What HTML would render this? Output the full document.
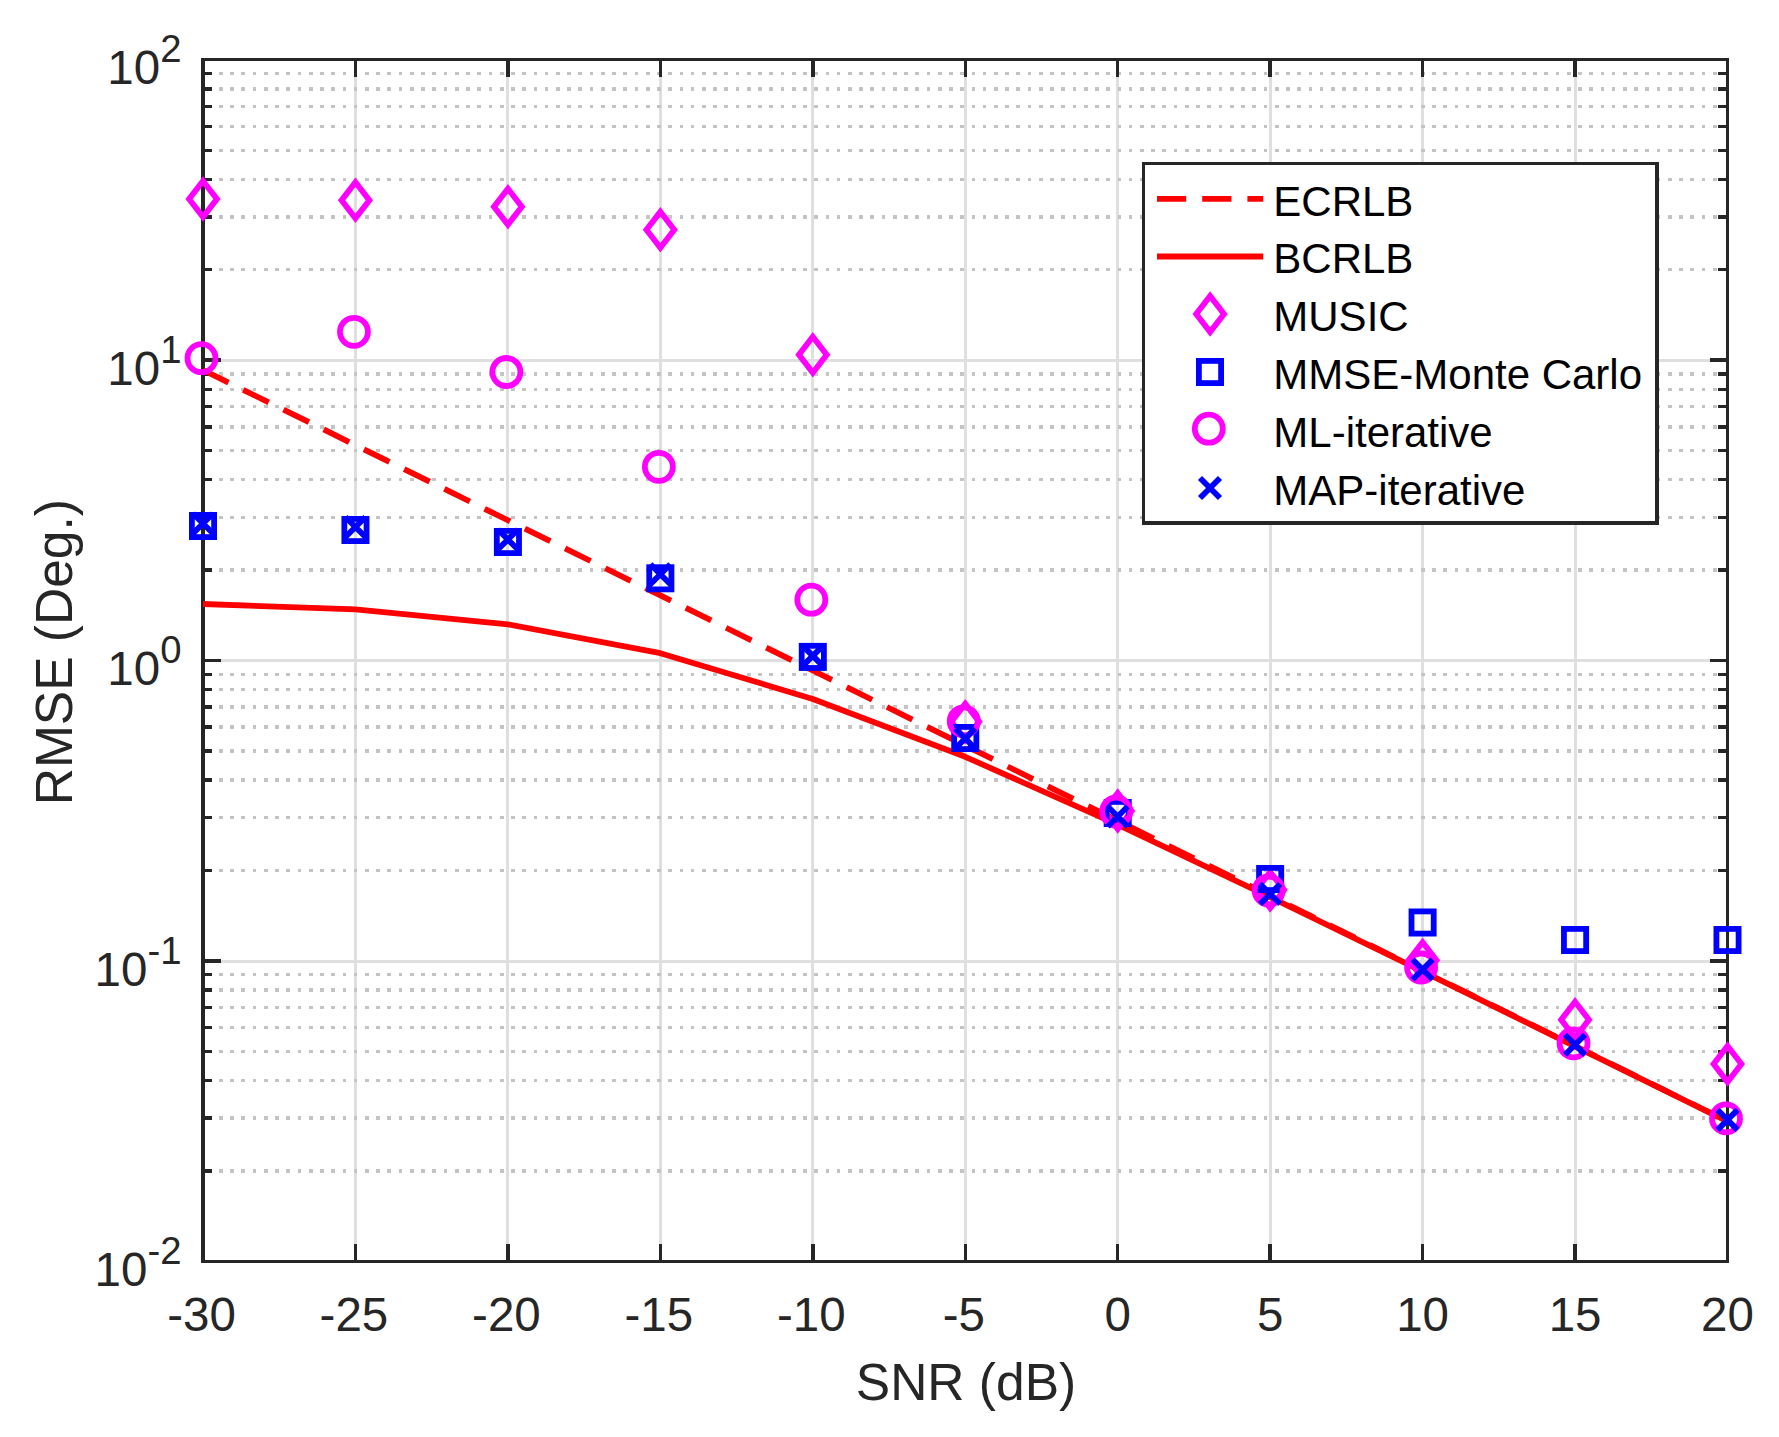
<!DOCTYPE html>
<html lang="en"><head><meta charset="utf-8"><title>RMSE vs SNR</title>
<style>html,body{margin:0;padding:0;background:#fff;}body{width:1779px;height:1437px;overflow:hidden;}svg{display:block;}text{font-family:"Liberation Sans",Arial,Helvetica,sans-serif;}</style></head><body>
<svg width="1779" height="1437" viewBox="0 0 1779 1437">
<rect x="0" y="0" width="1779" height="1437" fill="#ffffff"/>
<g shape-rendering="crispEdges" fill="none">
<g stroke="#dfdfdf" stroke-width="3.00">
<line x1="355.45" y1="59.50" x2="355.45" y2="1261.50"/>
<line x1="507.90" y1="59.50" x2="507.90" y2="1261.50"/>
<line x1="660.35" y1="59.50" x2="660.35" y2="1261.50"/>
<line x1="812.80" y1="59.50" x2="812.80" y2="1261.50"/>
<line x1="965.25" y1="59.50" x2="965.25" y2="1261.50"/>
<line x1="1117.70" y1="59.50" x2="1117.70" y2="1261.50"/>
<line x1="1270.15" y1="59.50" x2="1270.15" y2="1261.50"/>
<line x1="1422.60" y1="59.50" x2="1422.60" y2="1261.50"/>
<line x1="1575.05" y1="59.50" x2="1575.05" y2="1261.50"/>
<line x1="203.00" y1="360.00" x2="1727.50" y2="360.00"/>
<line x1="203.00" y1="660.50" x2="1727.50" y2="660.50"/>
<line x1="203.00" y1="961.00" x2="1727.50" y2="961.00"/>
</g>
<g stroke="#c4c4c4" stroke-width="3.4" stroke-dasharray="3.7 7.532" stroke-dashoffset="6.46">
<line x1="203.00" y1="1170.88" x2="1727.50" y2="1170.88"/>
<line x1="203.00" y1="1117.98" x2="1727.50" y2="1117.98"/>
<line x1="203.00" y1="1080.46" x2="1727.50" y2="1080.46"/>
<line x1="203.00" y1="1051.35" x2="1727.50" y2="1051.35"/>
<line x1="203.00" y1="1027.56" x2="1727.50" y2="1027.56"/>
<line x1="203.00" y1="1007.45" x2="1727.50" y2="1007.45"/>
<line x1="203.00" y1="990.03" x2="1727.50" y2="990.03"/>
<line x1="203.00" y1="974.67" x2="1727.50" y2="974.67"/>
<line x1="203.00" y1="870.50" x2="1727.50" y2="870.50"/>
<line x1="203.00" y1="817.61" x2="1727.50" y2="817.61"/>
<line x1="203.00" y1="780.08" x2="1727.50" y2="780.08"/>
<line x1="203.00" y1="750.97" x2="1727.50" y2="750.97"/>
<line x1="203.00" y1="727.19" x2="1727.50" y2="727.19"/>
<line x1="203.00" y1="707.08" x2="1727.50" y2="707.08"/>
<line x1="203.00" y1="689.66" x2="1727.50" y2="689.66"/>
<line x1="203.00" y1="674.29" x2="1727.50" y2="674.29"/>
<line x1="203.00" y1="570.13" x2="1727.50" y2="570.13"/>
<line x1="203.00" y1="517.23" x2="1727.50" y2="517.23"/>
<line x1="203.00" y1="479.71" x2="1727.50" y2="479.71"/>
<line x1="203.00" y1="450.60" x2="1727.50" y2="450.60"/>
<line x1="203.00" y1="426.81" x2="1727.50" y2="426.81"/>
<line x1="203.00" y1="406.70" x2="1727.50" y2="406.70"/>
<line x1="203.00" y1="389.28" x2="1727.50" y2="389.28"/>
<line x1="203.00" y1="373.92" x2="1727.50" y2="373.92"/>
<line x1="203.00" y1="269.75" x2="1727.50" y2="269.75"/>
<line x1="203.00" y1="216.86" x2="1727.50" y2="216.86"/>
<line x1="203.00" y1="179.33" x2="1727.50" y2="179.33"/>
<line x1="203.00" y1="150.22" x2="1727.50" y2="150.22"/>
<line x1="203.00" y1="126.44" x2="1727.50" y2="126.44"/>
<line x1="203.00" y1="106.33" x2="1727.50" y2="106.33"/>
<line x1="203.00" y1="88.91" x2="1727.50" y2="88.91"/>
<line x1="203.00" y1="73.54" x2="1727.50" y2="73.54"/>
</g>
<g stroke="#262626" stroke-width="3.40">
<line x1="355.45" y1="59.50" x2="355.45" y2="77.00"/>
<line x1="355.45" y1="1261.50" x2="355.45" y2="1244.00"/>
<line x1="507.90" y1="59.50" x2="507.90" y2="77.00"/>
<line x1="507.90" y1="1261.50" x2="507.90" y2="1244.00"/>
<line x1="660.35" y1="59.50" x2="660.35" y2="77.00"/>
<line x1="660.35" y1="1261.50" x2="660.35" y2="1244.00"/>
<line x1="812.80" y1="59.50" x2="812.80" y2="77.00"/>
<line x1="812.80" y1="1261.50" x2="812.80" y2="1244.00"/>
<line x1="965.25" y1="59.50" x2="965.25" y2="77.00"/>
<line x1="965.25" y1="1261.50" x2="965.25" y2="1244.00"/>
<line x1="1117.70" y1="59.50" x2="1117.70" y2="77.00"/>
<line x1="1117.70" y1="1261.50" x2="1117.70" y2="1244.00"/>
<line x1="1270.15" y1="59.50" x2="1270.15" y2="77.00"/>
<line x1="1270.15" y1="1261.50" x2="1270.15" y2="1244.00"/>
<line x1="1422.60" y1="59.50" x2="1422.60" y2="77.00"/>
<line x1="1422.60" y1="1261.50" x2="1422.60" y2="1244.00"/>
<line x1="1575.05" y1="59.50" x2="1575.05" y2="77.00"/>
<line x1="1575.05" y1="1261.50" x2="1575.05" y2="1244.00"/>
<line x1="203.00" y1="360.00" x2="220.50" y2="360.00"/>
<line x1="1727.50" y1="360.00" x2="1710.00" y2="360.00"/>
<line x1="203.00" y1="660.50" x2="220.50" y2="660.50"/>
<line x1="1727.50" y1="660.50" x2="1710.00" y2="660.50"/>
<line x1="203.00" y1="961.00" x2="220.50" y2="961.00"/>
<line x1="1727.50" y1="961.00" x2="1710.00" y2="961.00"/>
<line x1="203.00" y1="1170.88" x2="212.00" y2="1170.88"/>
<line x1="1727.50" y1="1170.88" x2="1717.90" y2="1170.88"/>
<line x1="203.00" y1="1117.98" x2="212.00" y2="1117.98"/>
<line x1="1727.50" y1="1117.98" x2="1717.90" y2="1117.98"/>
<line x1="203.00" y1="1080.46" x2="212.00" y2="1080.46"/>
<line x1="1727.50" y1="1080.46" x2="1717.90" y2="1080.46"/>
<line x1="203.00" y1="1051.35" x2="212.00" y2="1051.35"/>
<line x1="1727.50" y1="1051.35" x2="1717.90" y2="1051.35"/>
<line x1="203.00" y1="1027.56" x2="212.00" y2="1027.56"/>
<line x1="1727.50" y1="1027.56" x2="1717.90" y2="1027.56"/>
<line x1="203.00" y1="1007.45" x2="212.00" y2="1007.45"/>
<line x1="1727.50" y1="1007.45" x2="1717.90" y2="1007.45"/>
<line x1="203.00" y1="990.03" x2="212.00" y2="990.03"/>
<line x1="1727.50" y1="990.03" x2="1717.90" y2="990.03"/>
<line x1="203.00" y1="974.67" x2="212.00" y2="974.67"/>
<line x1="1727.50" y1="974.67" x2="1717.90" y2="974.67"/>
<line x1="203.00" y1="870.50" x2="212.00" y2="870.50"/>
<line x1="1727.50" y1="870.50" x2="1717.90" y2="870.50"/>
<line x1="203.00" y1="817.61" x2="212.00" y2="817.61"/>
<line x1="1727.50" y1="817.61" x2="1717.90" y2="817.61"/>
<line x1="203.00" y1="780.08" x2="212.00" y2="780.08"/>
<line x1="1727.50" y1="780.08" x2="1717.90" y2="780.08"/>
<line x1="203.00" y1="750.97" x2="212.00" y2="750.97"/>
<line x1="1727.50" y1="750.97" x2="1717.90" y2="750.97"/>
<line x1="203.00" y1="727.19" x2="212.00" y2="727.19"/>
<line x1="1727.50" y1="727.19" x2="1717.90" y2="727.19"/>
<line x1="203.00" y1="707.08" x2="212.00" y2="707.08"/>
<line x1="1727.50" y1="707.08" x2="1717.90" y2="707.08"/>
<line x1="203.00" y1="689.66" x2="212.00" y2="689.66"/>
<line x1="1727.50" y1="689.66" x2="1717.90" y2="689.66"/>
<line x1="203.00" y1="674.29" x2="212.00" y2="674.29"/>
<line x1="1727.50" y1="674.29" x2="1717.90" y2="674.29"/>
<line x1="203.00" y1="570.13" x2="212.00" y2="570.13"/>
<line x1="1727.50" y1="570.13" x2="1717.90" y2="570.13"/>
<line x1="203.00" y1="517.23" x2="212.00" y2="517.23"/>
<line x1="1727.50" y1="517.23" x2="1717.90" y2="517.23"/>
<line x1="203.00" y1="479.71" x2="212.00" y2="479.71"/>
<line x1="1727.50" y1="479.71" x2="1717.90" y2="479.71"/>
<line x1="203.00" y1="450.60" x2="212.00" y2="450.60"/>
<line x1="1727.50" y1="450.60" x2="1717.90" y2="450.60"/>
<line x1="203.00" y1="426.81" x2="212.00" y2="426.81"/>
<line x1="1727.50" y1="426.81" x2="1717.90" y2="426.81"/>
<line x1="203.00" y1="406.70" x2="212.00" y2="406.70"/>
<line x1="1727.50" y1="406.70" x2="1717.90" y2="406.70"/>
<line x1="203.00" y1="389.28" x2="212.00" y2="389.28"/>
<line x1="1727.50" y1="389.28" x2="1717.90" y2="389.28"/>
<line x1="203.00" y1="373.92" x2="212.00" y2="373.92"/>
<line x1="1727.50" y1="373.92" x2="1717.90" y2="373.92"/>
<line x1="203.00" y1="269.75" x2="212.00" y2="269.75"/>
<line x1="1727.50" y1="269.75" x2="1717.90" y2="269.75"/>
<line x1="203.00" y1="216.86" x2="212.00" y2="216.86"/>
<line x1="1727.50" y1="216.86" x2="1717.90" y2="216.86"/>
<line x1="203.00" y1="179.33" x2="212.00" y2="179.33"/>
<line x1="1727.50" y1="179.33" x2="1717.90" y2="179.33"/>
<line x1="203.00" y1="150.22" x2="212.00" y2="150.22"/>
<line x1="1727.50" y1="150.22" x2="1717.90" y2="150.22"/>
<line x1="203.00" y1="126.44" x2="212.00" y2="126.44"/>
<line x1="1727.50" y1="126.44" x2="1717.90" y2="126.44"/>
<line x1="203.00" y1="106.33" x2="212.00" y2="106.33"/>
<line x1="1727.50" y1="106.33" x2="1717.90" y2="106.33"/>
<line x1="203.00" y1="88.91" x2="212.00" y2="88.91"/>
<line x1="1727.50" y1="88.91" x2="1717.90" y2="88.91"/>
<line x1="203.00" y1="73.54" x2="212.00" y2="73.54"/>
<line x1="1727.50" y1="73.54" x2="1717.90" y2="73.54"/>
<rect x="203.00" y="59.50" width="1524.50" height="1202.00" stroke-width="3.40"/>
</g>
</g>
<g fill="none" stroke-linejoin="round">
<polyline points="203.00,370.00 355.45,445.12 507.90,520.25 660.35,595.38 812.80,670.50 965.25,745.62 1117.70,820.75 1270.15,895.88 1422.60,971.00 1575.05,1046.12 1727.50,1121.25" stroke="#ff0000" stroke-width="5.8" stroke-dasharray="28.4 16.45"/>
<polyline points="203.00,604.00 355.45,609.40 507.90,624.30 660.35,653.20 812.80,699.00 965.25,756.80 1117.70,824.60 1270.15,897.10 1422.60,971.40 1575.05,1046.30 1727.50,1121.30" stroke="#ff0000" stroke-width="5.8"/>
<g stroke="#ff00ff" stroke-width="5.8" stroke-linejoin="miter">
<path d="M203.00 181.00L216.90 199.00L203.00 217.00L189.10 199.00Z"/>
<path d="M355.45 182.20L369.35 200.20L355.45 218.20L341.55 200.20Z"/>
<path d="M507.90 188.70L521.80 206.70L507.90 224.70L494.00 206.70Z"/>
<path d="M660.35 211.70L674.25 229.70L660.35 247.70L646.45 229.70Z"/>
<path d="M812.80 336.80L826.70 354.80L812.80 372.80L798.90 354.80Z"/>
<path d="M965.25 703.80L979.15 721.80L965.25 739.80L951.35 721.80Z"/>
<path d="M1117.70 793.00L1131.60 811.00L1117.70 829.00L1103.80 811.00Z"/>
<path d="M1270.15 872.00L1284.05 890.00L1270.15 908.00L1256.25 890.00Z"/>
<path d="M1422.60 942.20L1436.50 960.20L1422.60 978.20L1408.70 960.20Z"/>
<path d="M1575.05 1001.80L1588.95 1019.80L1575.05 1037.80L1561.15 1019.80Z"/>
<path d="M1727.50 1046.00L1741.40 1064.00L1727.50 1082.00L1713.60 1064.00Z"/>
</g>
<g stroke="#0000ff" stroke-width="5.8" stroke-linejoin="miter">
<rect x="191.90" y="514.90" width="22.20" height="22.20"/>
<rect x="344.35" y="518.90" width="22.20" height="22.20"/>
<rect x="496.80" y="530.90" width="22.20" height="22.20"/>
<rect x="649.25" y="567.20" width="22.20" height="22.20"/>
<rect x="801.70" y="645.80" width="22.20" height="22.20"/>
<rect x="954.15" y="726.90" width="22.20" height="22.20"/>
<rect x="1106.60" y="801.90" width="22.20" height="22.20"/>
<rect x="1259.05" y="867.90" width="22.20" height="22.20"/>
<rect x="1411.50" y="911.40" width="22.20" height="22.20"/>
<rect x="1563.95" y="928.90" width="22.20" height="22.20"/>
<rect x="1716.40" y="928.90" width="22.20" height="22.20"/>
</g>
<g stroke="#ff00ff" stroke-width="5.8">
<circle cx="201.50" cy="358.20" r="14.0"/>
<circle cx="353.95" cy="331.80" r="14.0"/>
<circle cx="506.40" cy="372.00" r="14.0"/>
<circle cx="658.85" cy="466.80" r="14.0"/>
<circle cx="811.30" cy="599.70" r="14.0"/>
<circle cx="963.75" cy="721.30" r="14.0"/>
<circle cx="1116.20" cy="811.50" r="14.0"/>
<circle cx="1268.65" cy="890.50" r="14.0"/>
<circle cx="1421.10" cy="967.50" r="14.0"/>
<circle cx="1573.55" cy="1043.30" r="14.0"/>
<circle cx="1726.00" cy="1118.40" r="14.0"/>
</g>
<g stroke="#0000ff" stroke-width="5.8" stroke-linecap="butt">
<path d="M193.00 513.50L213.00 533.50M193.00 533.50L213.00 513.50"/>
<path d="M345.45 517.00L365.45 537.00M345.45 537.00L365.45 517.00"/>
<path d="M497.90 529.50L517.90 549.50M497.90 549.50L517.90 529.50"/>
<path d="M650.35 564.30L670.35 584.30M650.35 584.30L670.35 564.30"/>
<path d="M802.80 645.90L822.80 665.90M802.80 665.90L822.80 645.90"/>
<path d="M955.25 728.50L975.25 748.50M955.25 748.50L975.25 728.50"/>
<path d="M1107.70 806.50L1127.70 826.50M1107.70 826.50L1127.70 806.50"/>
<path d="M1260.15 884.00L1280.15 904.00M1260.15 904.00L1280.15 884.00"/>
<path d="M1412.60 959.50L1432.60 979.50M1412.60 979.50L1432.60 959.50"/>
<path d="M1565.05 1034.80L1585.05 1054.80M1565.05 1054.80L1585.05 1034.80"/>
<path d="M1717.50 1109.90L1737.50 1129.90M1717.50 1129.90L1737.50 1109.90"/>
</g>
</g>
<g fill="#262626" font-size="47.5px">
<text x="201.50" y="1330.5" text-anchor="middle">-30</text>
<text x="353.95" y="1330.5" text-anchor="middle">-25</text>
<text x="506.40" y="1330.5" text-anchor="middle">-20</text>
<text x="658.85" y="1330.5" text-anchor="middle">-15</text>
<text x="811.30" y="1330.5" text-anchor="middle">-10</text>
<text x="963.75" y="1330.5" text-anchor="middle">-5</text>
<text x="1117.70" y="1330.5" text-anchor="middle">0</text>
<text x="1270.15" y="1330.5" text-anchor="middle">5</text>
<text x="1422.60" y="1330.5" text-anchor="middle">10</text>
<text x="1575.05" y="1330.5" text-anchor="middle">15</text>
<text x="1727.50" y="1330.5" text-anchor="middle">20</text>
<text x="181.5" y="84.20" text-anchor="end">10<tspan font-size="38.3px" dy="-22.2">2</tspan></text>
<text x="181.5" y="384.70" text-anchor="end">10<tspan font-size="38.3px" dy="-22.2">1</tspan></text>
<text x="181.5" y="685.20" text-anchor="end">10<tspan font-size="38.3px" dy="-22.2">0</tspan></text>
<text x="181.5" y="985.70" text-anchor="end">10<tspan font-size="38.3px" dy="-22.2">-1</tspan></text>
<text x="181.5" y="1286.20" text-anchor="end">10<tspan font-size="38.3px" dy="-22.2">-2</tspan></text>
</g>
<g fill="#262626" font-size="51.5px">
<text x="966" y="1400" text-anchor="middle">SNR (dB)</text>
<text transform="translate(72 652.2) rotate(-90)" text-anchor="middle">RMSE (Deg.)</text>
</g>
<rect x="1143.50" y="163.50" width="513.50" height="359.50" fill="#ffffff" stroke="#262626" stroke-width="3.4" shape-rendering="crispEdges"/>
<g fill="none">
<line x1="1157" y1="198.80" x2="1263.2" y2="198.80" stroke="#ff0000" stroke-width="5.8" stroke-dasharray="29.2 16"/>
<line x1="1157" y1="256.50" x2="1263.2" y2="256.50" stroke="#ff0000" stroke-width="5.8"/>
<g stroke="#ff00ff" stroke-width="5.8" stroke-linejoin="miter"><path d="M1210.10 296.00L1224.00 314.00L1210.10 332.00L1196.20 314.00Z"/></g>
<g stroke="#0000ff" stroke-width="5.8" stroke-linejoin="miter"><rect x="1198.90" y="360.90" width="22.20" height="22.20"/></g>
<g stroke="#ff00ff" stroke-width="5.8"><circle cx="1208.80" cy="428.70" r="14.0"/></g>
<g stroke="#0000ff" stroke-width="5.8"><path d="M1200.00 478.00L1220.00 498.00M1200.00 498.00L1220.00 478.00"/></g>
</g>
<g fill="#000000" font-size="42px">
<text x="1273.3" y="215.60">ECRLB</text>
<text x="1273.3" y="273.42">BCRLB</text>
<text x="1273.3" y="331.24">MUSIC</text>
<text x="1273.3" y="389.06">MMSE-Monte Carlo</text>
<text x="1273.3" y="446.88">ML-iterative</text>
<text x="1273.3" y="504.70">MAP-iterative</text>
</g>
</svg>
</body></html>
